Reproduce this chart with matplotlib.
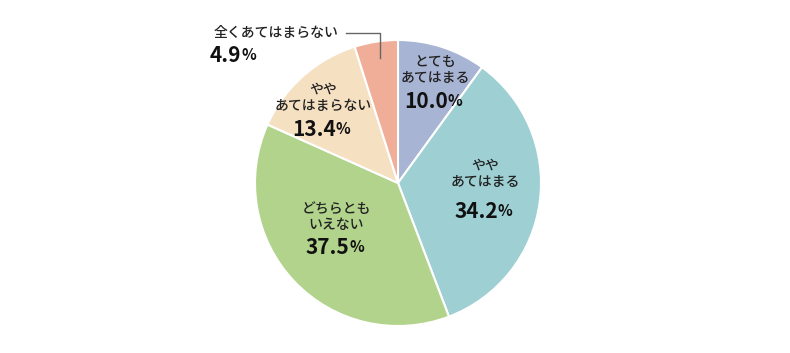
import matplotlib
matplotlib.use("Agg")
import matplotlib.pyplot as plt

plt.rcParams['font.family'] = ['Noto Sans CJK JP', 'DejaVu Sans']

categories = ["とても\nあてはまる", "やや\nあてはまる", "どちらとも\nいえない", "やや\nあてはまらない", "全くあてはまらない"]
values = [10.0, 34.2, 37.5, 13.4, 4.9]
colors = ["#a8b4d3", "#9dcfd3", "#b2d38b", "#f5e0c2", "#f0ae98"]

W, H = 790, 353
fig = plt.figure(figsize=(W / 100, H / 100), dpi=100)
ax = fig.add_axes([0, 0, 1, 1])

cx, cy, r = 398, H - 183, 143
ax.pie(values, colors=colors, startangle=90, counterclock=False,
       center=(cx, cy), radius=r, frame=True,
       wedgeprops=dict(edgecolor='white', linewidth=1.5))
ax.set_xlim(0, W)
ax.set_ylim(0, H)
ax.set_aspect('equal')
ax.axis('off')

# label positions (pixel coords, y from top): (x, y_label_center, y_pct)
label_pos = [(435, 70, 101), (485, 174, 212), (336, 217, 248), (323, 98, 129)]
for (x, yl, yp), cat, v in zip(label_pos, categories[:4], values[:4]):
    ax.text(x, H - yl, cat, ha='center', va='center', fontsize=10,
            linespacing=1.2, color='#222222', fontweight='medium')
    ax.text(x + 13, H - yp, f"{v:.1f}", ha='right', va='center', fontsize=15,
            fontweight='bold', color='#111111')
    ax.text(x + 13, H - yp + 0.5, "%", ha='left', va='center', fontsize=11,
            fontweight='bold', color='#111111')

# outside label for last slice
ax.text(214, H - 33, categories[4], ha='left', va='center', fontsize=10,
        color='#222222', fontweight='medium')
ax.text(241, H - 56, f"{values[4]:.1f}", ha='right', va='center', fontsize=15,
        fontweight='bold', color='#111111')
ax.text(241, H - 55.5, "%", ha='left', va='center', fontsize=11,
        fontweight='bold', color='#111111')
ax.plot([346, 380, 380], [H - 33, H - 33, H - 58], color='#666666', linewidth=1)

fig.savefig("out.png", dpi=100)
